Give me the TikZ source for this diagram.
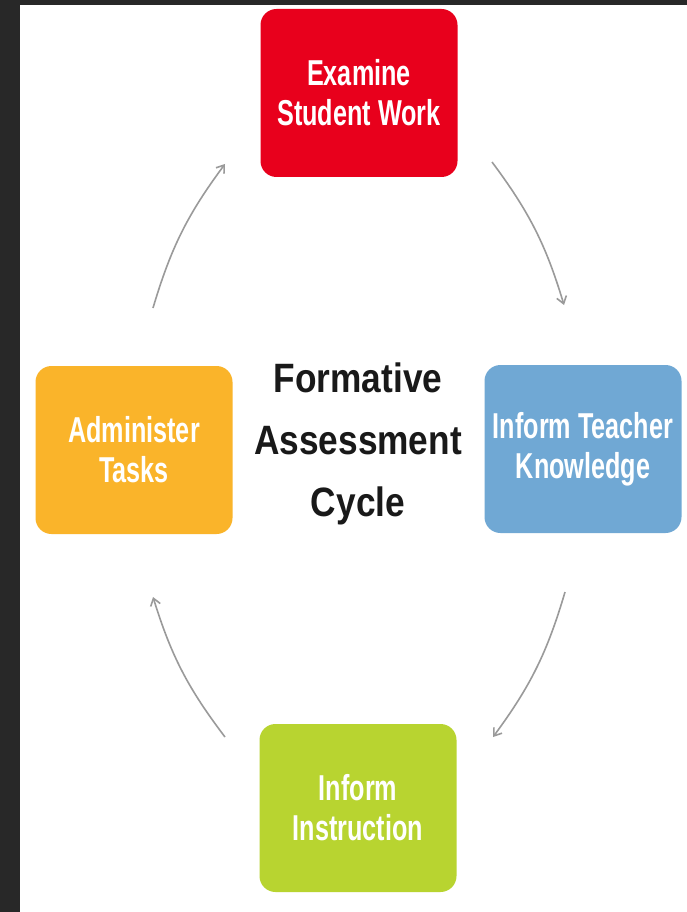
\documentclass[tikz,border=0pt]{standalone}
\usepackage{xcolor}
\usepackage{tikz}
\usetikzlibrary{arrows.meta}
\usepackage{fontspec}
\newfontfamily\boxfont[FakeStretch=0.7]{Liberation Sans Bold}
\newfontfamily\cyclefont[FakeStretch=0.86]{Liberation Sans Bold}
\definecolor{moldura}{HTML}{282828}
\definecolor{vermelho}{HTML}{E8001C}
\definecolor{laranja}{HTML}{FAB42A}
\definecolor{azul}{HTML}{70A8D4}
\definecolor{verde}{HTML}{B8D430}
\definecolor{seta}{HTML}{9A9A9A}

\begin{document}
\begin{tikzpicture}[x=1pt, y=-1pt,
	caixa/.style={rounded corners=16pt, minimum width=197pt, minimum height=168pt,
		text=white, align=center, font=\boxfont\fontsize{36}{40}\selectfont},
	ciclo/.style={-{Straight Barb[length=7pt,width=10pt]}, draw=seta, line width=1.6pt}]
		\useasboundingbox (0,0) rectangle (687,912);
		\fill[moldura] (0,0) rectangle (687,912);
		\fill[white] (20,5) rectangle (687,912);
		\path
		node[caixa, fill=vermelho] at (359,93) (exam) {Examine\\Student Work}
		node[caixa, fill=azul] at (583,449) (teach) {Inform Teacher\\Knowledge}
		node[caixa, fill=verde] at (358,808) (instr) {Inform\\Instruction}
		node[caixa, fill=laranja] at (134,450) (adm) {Administer\\Tasks}
		node[align=center, text=black!90, font=\cyclefont\fontsize{41}{62}\selectfont] at (358,444) (ciclo) {Formative\\Assessment\\Cycle};
		% pontas das setas
		\coordinate (a1) at (153,308);
		\coordinate (a2) at (225,164);
		\coordinate (b1) at (492,162);
		\coordinate (b2) at (564,305);
		\coordinate (c1) at (565,592);
		\coordinate (c2) at (493,737);
		\coordinate (d1) at (225,737);
		\coordinate (d2) at (153,597);
		\draw[ciclo] (a1) to[bend left=10] (a2);
		\draw[ciclo] (b1) to[bend left=10] (b2);
		\draw[ciclo] (c1) to[bend left=10] (c2);
		\draw[ciclo] (d1) to[bend left=10] (d2);
	\end{tikzpicture}
\end{document}
